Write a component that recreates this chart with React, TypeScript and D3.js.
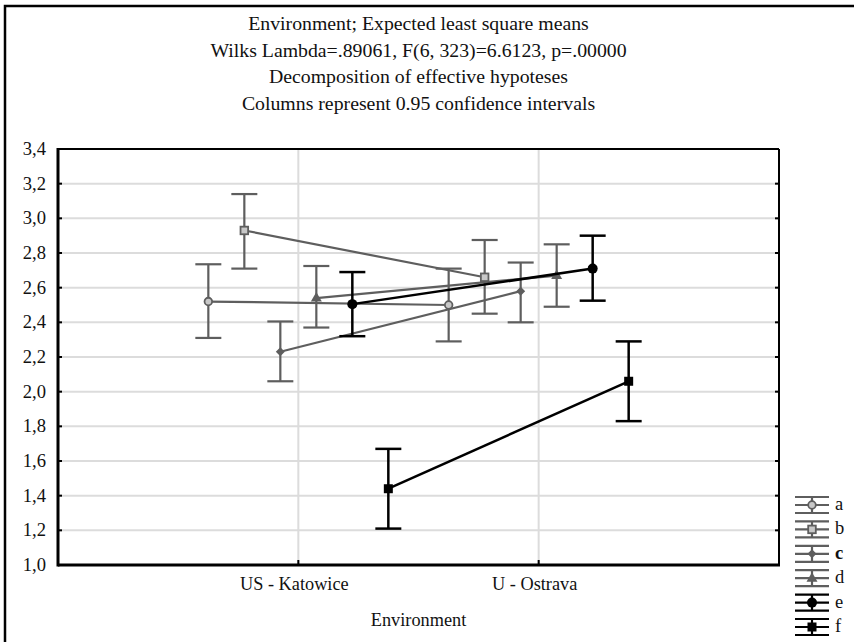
import React from "react";
import * as d3 from "d3";

const categories = ["US - Katowice", "U - Ostrava"];
const seriesNames = ["a", "b", "c", "d", "e", "f"];

// means and 0.95 confidence limits, per series (a..f)
const meanKatowice = [2.52, 2.93, 2.23, 2.54, 2.505, 1.44];
const lowKatowice = [2.31, 2.71, 2.06, 2.37, 2.32, 1.21];
const highKatowice = [2.735, 3.14, 2.405, 2.725, 2.69, 1.67];

const meanOstrava = [2.5, 2.66, 2.58, 2.67, 2.71, 2.06];
const lowOstrava = [2.29, 2.45, 2.4, 2.49, 2.525, 1.83];
const highOstrava = [2.71, 2.875, 2.745, 2.85, 2.9, 2.29];

const yTicks = [1.0, 1.2, 1.4, 1.6, 1.8, 2.0, 2.2, 2.4, 2.6, 2.8, 3.0, 3.2, 3.4];

const titleLines = [
  "Environment; Expected least square means",
  "Wilks Lambda=.89061, F(6, 323)=6.6123, p=.00000",
  "Decomposition of effective hypoteses",
  "Columns represent 0.95 confidence intervals",
];

const GRAY = "#5e5e5e";
const seriesColor = [GRAY, GRAY, GRAY, GRAY, "#000", "#000"];
const seriesMarker = ["ring", "box", "diamond", "triangle", "dot", "square"];

const FONT = "'Liberation Serif', 'Times New Roman', serif";

function Marker({ kind, x, y, color }: { kind: string; x: number; y: number; color: string }) {
  switch (kind) {
    case "ring":
      return <circle cx={x} cy={y} r={3.8} fill="#c8c8c8" stroke={color} strokeWidth={1.8} />;
    case "box":
      return <rect x={x - 3.8} y={y - 3.8} width={7.6} height={7.6} fill="#c8c8c8" stroke={color} strokeWidth={1.8} />;
    case "diamond":
      return <path d={`M${x},${y - 4.5}L${x + 4.5},${y}L${x},${y + 4.5}L${x - 4.5},${y}Z`} fill={color} />;
    case "triangle":
      return <path d={`M${x},${y - 6}L${x + 5.5},${y + 3.5}L${x - 5.5},${y + 3.5}Z`} fill={color} />;
    case "dot":
      return <circle cx={x} cy={y} r={5} fill={color} />;
    default:
      return <rect x={x - 4.5} y={y - 4.5} width={9} height={9} fill={color} />;
  }
}

export default function App() {
  const width = 854;
  const height = 642;
  const plot = { left: 58, right: 779, top: 149, bottom: 565 };

  const x = d3.scalePoint<string>().domain(categories).range([plot.left, plot.right]).padding(1);
  const dodge = d3.scalePoint<string>().domain(seriesNames).range([-90, 90]);
  const y = d3.scaleLinear().domain([1.0, 3.4]).range([plot.bottom, plot.top]);
  const fmt = (v: number) => d3.format(".1f")(v).replace(".", ",");

  const means = [meanKatowice, meanOstrava];
  const lows = [lowKatowice, lowOstrava];
  const highs = [highKatowice, highOstrava];

  const line = d3
    .line<[number, number]>()
    .x((d) => d[0])
    .y((d) => d[1]);

  const cap = 13;

  return (
    <svg
      width={width}
      height={height}
      style={{ position: "absolute", left: 0, top: 0, background: "#fff" }}
      fontFamily={FONT}
    >
      <rect x={0} y={0} width={width} height={height} fill="#fff" />
      {/* outer frame, right and bottom run off the picture */}
      <rect x={5} y={6} width={width + 10} height={height + 10} fill="none" stroke="#000" strokeWidth={2.5} />

      {/* titles */}
      <g fontSize={19.8} textAnchor="middle" fill="#111">
        {titleLines.map((t, i) => (
          <text key={i} x={(plot.left + plot.right) / 2} y={30 + i * 26.7}>
            {t}
          </text>
        ))}
      </g>

      {/* grid */}
      <g stroke="#dcdcdc" strokeWidth={2}>
        {yTicks.slice(1, -1).map((t) => (
          <line key={t} x1={plot.left} x2={plot.right} y1={y(t)} y2={y(t)} />
        ))}
        {categories.map((c) => (
          <line key={c} x1={x(c)} x2={x(c)} y1={plot.top} y2={plot.bottom} />
        ))}
      </g>

      {/* frame */}
      <g stroke="#000" fill="none">
        <line x1={plot.left} x2={plot.right} y1={plot.top} y2={plot.top} strokeWidth={2} />
        <line x1={plot.right} x2={plot.right} y1={plot.top} y2={plot.bottom} strokeWidth={2} />
        <line x1={plot.left} x2={plot.right + 1} y1={plot.bottom} y2={plot.bottom} strokeWidth={3} />
        <line x1={plot.left} x2={plot.left} y1={plot.top - 1} y2={plot.bottom + 1.5} strokeWidth={3} />
        {yTicks.map((t) => (
          <g key={t}>
            <line x1={plot.left} x2={plot.left + 4} y1={y(t)} y2={y(t)} strokeWidth={2} />
            <line x1={plot.right - 4} x2={plot.right} y1={y(t)} y2={y(t)} strokeWidth={2} />
          </g>
        ))}
        {categories.map((c) => (
          <line key={c} x1={x(c)} x2={x(c)} y1={plot.bottom} y2={plot.bottom - 5} strokeWidth={2} />
        ))}
      </g>

      {/* y tick labels */}
      <g fontSize={18.6} textAnchor="end" fill="#111">
        {yTicks.map((t) => (
          <text key={t} x={46} y={y(t) + 6}>
            {fmt(t)}
          </text>
        ))}
      </g>

      {/* x labels */}
      <g fontSize={18.3} textAnchor="middle" fill="#111">
        {categories.map((c) => (
          <text key={c} x={(x(c) as number) - 4} y={590}>
            {c}
          </text>
        ))}
        <text x={(plot.left + plot.right) / 2} y={626}>
          Environment
        </text>
      </g>

      {/* series */}
      {seriesNames.map((s, i) => {
        const color = seriesColor[i];
        const sw = color === "#000" ? 2.5 : 2.2;
        const pts: [number, number][] = categories.map((c, k) => [
          (x(c) as number) + (dodge(s) as number),
          y(means[k][i]),
        ]);
        return (
          <g key={s}>
            <path d={line(pts) ?? ""} fill="none" stroke={color} strokeWidth={sw} />
            {categories.map((c, k) => {
              const cx = pts[k][0];
              const lo = y(lows[k][i]);
              const hi = y(highs[k][i]);
              return (
                <g key={c} stroke={color} strokeWidth={sw}>
                  <line x1={cx} x2={cx} y1={hi} y2={lo} />
                  <line x1={cx - cap} x2={cx + cap} y1={hi} y2={hi} />
                  <line x1={cx - cap} x2={cx + cap} y1={lo} y2={lo} />
                </g>
              );
            })}
            {pts.map((p, k) => (
              <Marker key={k} kind={seriesMarker[i]} x={p[0]} y={p[1]} color={color} />
            ))}
          </g>
        );
      })}

      {/* legend */}
      <g>
        {seriesNames.map((s, i) => {
          const cy = 505 + i * 24.4;
          const color = seriesColor[i];
          const lx = 812;
          return (
            <g key={s}>
              <g stroke={color} strokeWidth={2.2}>
                <line x1={lx - 17} x2={lx + 17} y1={cy - 8} y2={cy - 8} />
                <line x1={lx - 17} x2={lx + 17} y1={cy} y2={cy} />
                <line x1={lx - 17} x2={lx + 17} y1={cy + 8} y2={cy + 8} />
                <line x1={lx} x2={lx} y1={cy - 8} y2={cy + 8} />
              </g>
              <Marker kind={seriesMarker[i]} x={lx} y={cy} color={color} />
              <text
                x={835}
                y={cy + 5}
                fontSize={18.5}
                fill="#111"
                fontWeight={s === "c" ? "bold" : "normal"}
              >
                {s}
              </text>
            </g>
          );
        })}
      </g>
    </svg>
  );
}
